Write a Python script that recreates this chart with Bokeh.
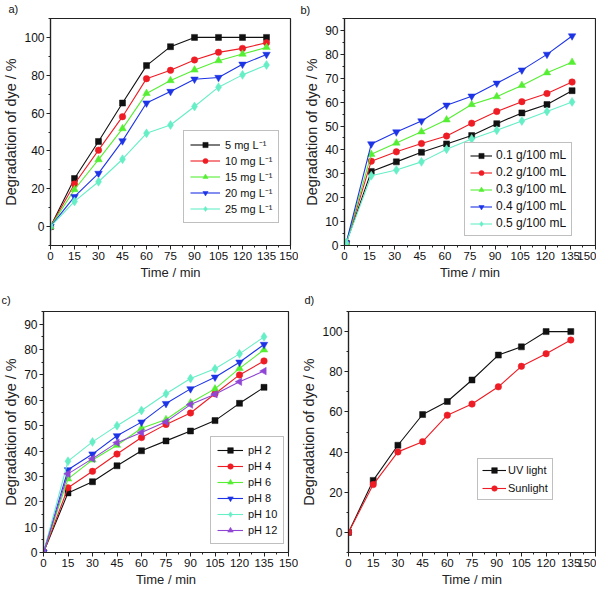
import math
from bokeh.plotting import figure
from bokeh.layouts import column, row
from bokeh.models import Range1d, SingleIntervalTicker, Legend, LegendItem
from bokeh.embed import file_html
from bokeh.resources import INLINE

FONT = "Liberation Sans"

# ---------------- data ----------------
# a) initial dye concentration
time_a = [0, 15, 30, 45, 60, 75, 90, 105, 120, 135]
a_5mg = [0, 25.4, 45, 65.3, 85.1, 95.1, 100, 100, 100, 100]
a_10mg = [0, 22.5, 40.4, 58.1, 78.2, 82.6, 88.1, 92.1, 94.2, 97.2]
a_15mg = [0, 19.6, 35.4, 51.8, 70.4, 77.2, 82.8, 87.7, 91.2, 94.7]
a_20mg = [0, 15.8, 28.1, 45.3, 65.3, 71.4, 77.9, 78.8, 85.8, 91]
a_25mg = [0, 13.3, 23.7, 35.6, 49.3, 53.7, 63.5, 73.7, 80.2, 85.4]
labels_a = ["5 mg L\u207b\u00b9", "10 mg L\u207b\u00b9", "15 mg L\u207b\u00b9",
            "20 mg L\u207b\u00b9", "25 mg L\u207b\u00b9"]

# b) catalyst dose
time_b = [1, 16, 31, 46, 61, 76, 91, 106, 121, 136]
b_01 = [1, 31, 35, 39, 42.5, 46, 51, 55.5, 59, 64.8]
b_02 = [1, 35.3, 39.2, 42.7, 45.8, 51.2, 56.1, 60.2, 63.6, 68.4]
b_03 = [1, 38.2, 42.9, 47.6, 52.6, 59, 62.3, 67, 72.3, 76.7]
b_04 = [1, 42.5, 47.5, 52.1, 58.7, 62.5, 67.9, 73.4, 80, 87.7]
b_05 = [1, 29.2, 31.6, 35, 40.3, 44.6, 48.2, 52.1, 56.1, 60.1]
labels_b = ["0.1 g/100 mL", "0.2 g/100 mL", "0.3 g/100 mL", "0.4 g/100 mL", "0.5 g/100 mL"]

# c) pH
time_c = [0, 15, 30, 45, 60, 75, 90, 105, 120, 135]
c_ph2 = [0, 23.5, 27.9, 34.2, 40.1, 44, 47.9, 52, 58.8, 65.1]
c_ph4 = [0, 25.5, 32, 38.8, 45.3, 50.5, 55, 62.6, 70, 75.5]
c_ph6 = [0, 29, 36.5, 42.3, 49, 52.4, 59, 64.5, 72.6, 79.9]
c_ph8 = [0, 32.6, 38.8, 46, 51.4, 58.7, 64.5, 69.1, 75, 82]
c_ph10 = [0, 36, 43.6, 50, 56, 62.6, 68.6, 72.4, 78.3, 85]
c_ph12 = [0, 31, 37, 43.3, 47.3, 51.5, 58.3, 62.4, 67.3, 71.5]
labels_c = ["pH 2", "pH 4", "pH 6", "pH 8", "pH 10", "pH 12"]

# d) light source
time_d = [0, 15, 30, 45, 60, 75, 91, 105, 120, 135]
d_uv = [0, 25.9, 43.4, 58.7, 65.2, 75.9, 88.3, 92.4, 100, 100]
d_sun = [0, 23.8, 40.1, 45.2, 58.4, 63.9, 72.5, 82.7, 89, 95.8]
labels_d = ["UV light", "Sunlight"]

x_label = "Time / min"
y_label = "Degradation of dye / %"

BLACK = "#111111"
RED = "#ee1c24"
GREEN = "#55ee33"
BLUE = "#1c33e6"
CYAN = "#66eec6"
PURPLE = "#9046d4"

STYLES = [
    (BLACK, "square", 6, 0.0),
    (RED, "circle", 6.5, 0.0),
    (GREEN, "triangle", 7.5, 0.0),
    (BLUE, "inverted_triangle", 7.5, 0.0),
    (CYAN, "diamond", 9, 0.0),
    (PURPLE, "triangle", 7.5, math.pi / 2),
]


def make_panel(width, height, borders, y_rng, y_int, xs, series, labels,
               legend_loc, legend_pad, legend_spacing, item_h, glyph_w, standoff,
               legend_font, tag, tag_offset, tag_standoff):
    left, right, top, bottom = borders
    p = figure(width=width, height=height, output_backend="svg", toolbar_location=None,
               x_range=Range1d(0, 150), y_range=Range1d(*y_rng),
               min_border_left=left, min_border_right=right,
               min_border_top=top, min_border_bottom=bottom)
    # panel tag "a)", "b)", ... as the figure title, shifted to the left edge
    p.title.text = tag
    p.title.align = "left"
    p.title.vertical_align = "top"
    p.title.offset = tag_offset
    p.title.standoff = tag_standoff
    p.title.text_font = FONT
    p.title.text_font_size = "11px"
    p.title.text_font_style = "normal"
    p.title.text_color = "#111111"

    p.grid.visible = False
    p.outline_line_color = "#222222"
    p.outline_line_width = 1.2
    p.xaxis.ticker = SingleIntervalTicker(interval=15, num_minor_ticks=2)
    p.yaxis.ticker = SingleIntervalTicker(interval=y_int, num_minor_ticks=2)
    for axes in (p.xaxis, p.yaxis):
        axes.axis_line_color = "#222222"
        axes.axis_line_width = 1.2
        axes.major_tick_line_color = "#222222"
        axes.minor_tick_line_color = "#222222"
        axes.major_tick_in = 0
        axes.major_tick_out = 4
        axes.minor_tick_in = 0
        axes.minor_tick_out = 2
        axes.major_label_text_font = FONT
        axes.major_label_text_color = "#111111"
        axes.major_label_standoff = 2
        axes.axis_label_text_font = FONT
        axes.axis_label_text_font_style = "normal"
        axes.axis_label_text_color = "#222222"
        axes.axis_label_standoff = 2
    p.xaxis.major_label_text_font_size = "11.5px"
    p.yaxis.major_label_text_font_size = "12px"
    p.xaxis.axis_label = x_label
    p.xaxis.axis_label_text_font_size = "13px"
    p.yaxis.axis_label = y_label
    p.yaxis.axis_label_text_font_size = "14.5px"

    items = []
    for i, (ys, lab) in enumerate(zip(series, labels)):
        color, marker, size, angle = STYLES[i]
        r_line = p.line(xs, ys, line_color=color, line_width=1.1)
        r_pts = p.scatter(xs, ys, marker=marker, size=size, angle=angle,
                          fill_color=color, line_color=color, line_width=0.5)
        items.append(LegendItem(label=lab, renderers=[r_line, r_pts]))

    legend = Legend(items=items, location=legend_loc, margin=0, padding=legend_pad,
                    spacing=legend_spacing, glyph_width=glyph_w, glyph_height=item_h,
                    label_height=item_h, label_standoff=standoff,
                    label_text_font=FONT, label_text_font_size=legend_font,
                    label_text_color="#111111",
                    border_line_color="#808080", border_line_width=1.2,
                    background_fill_color="white", background_fill_alpha=1.0)
    p.add_layout(legend)
    return p


# top row: height 290 ; bottom row: height 299
pa = make_panel(298, 290, (42, 8, 17, 45), (-10, 110), 20, time_a,
                [a_5mg, a_10mg, a_15mg, a_20mg, a_25mg], labels_a,
                (133, 22), 6, 1, 13, 30, 5, "11px", "a)", -42, 4)
pb = make_panel(298, 290, (46, 1, 15, 45), (0, 95), 10, time_b,
                [b_01, b_02, b_03, b_04, b_05], labels_b,
                (120, 9), 5, 3, 13, 22, 4, "12px", "b)", -44, 2)
pc = make_panel(298, 299, (42, 10, 21, 37), (0, 95), 10, time_c,
                [c_ph2, c_ph4, c_ph6, c_ph8, c_ph10, c_ph12], labels_c,
                (167, 8), 6, 2, 14, 26, 5, "11px", "c)", -42, 7)
pd_ = make_panel(298, 299, (46, 1, 21, 37), (-10, 110), 20, time_d,
                 [d_uv, d_sun], labels_d,
                 (129, 52), 4, 4, 14, 24, 2, "11px", "d)", -44, 7)

layout = column(row(pa, pb), row(pc, pd_))

with open("out.html", "w") as f:
    f.write(file_html(layout, INLINE))
